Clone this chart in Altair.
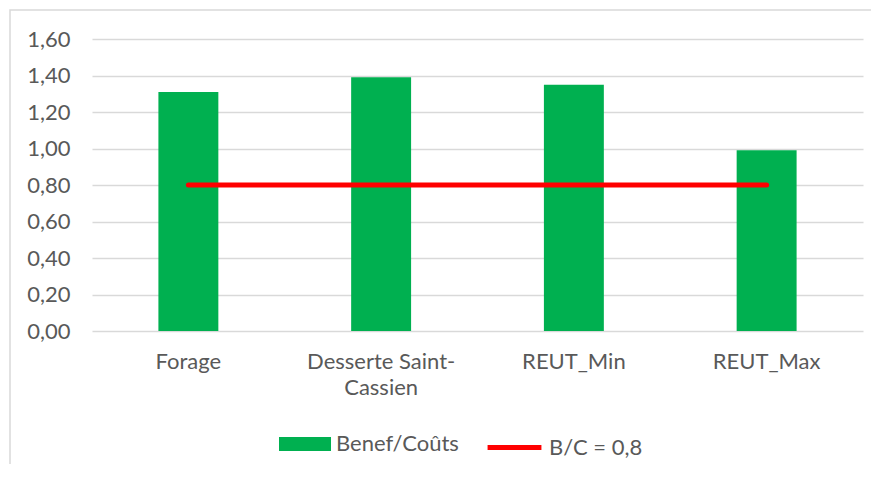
import altair as alt
import pandas as pd

categories = ["Forage", "Desserte Saint-Cassien", "REUT_Min", "REUT_Max"]
ratios = [1.31, 1.39, 1.35, 0.99]
threshold = [0.8, 0.8, 0.8, 0.8]
y_ticks = [0.0, 0.2, 0.4, 0.6, 0.8, 1.0, 1.2, 1.4, 1.6]
bar_series = "Benef/Coûts"
line_series = "B/C = 0,8"

df = pd.DataFrame({
    "cat": categories,
    "ratio": ratios,
    "seuil": threshold,
    "s1": [bar_series] * len(categories),
    "s2": [line_series] * len(categories),
})

W, H = 771, 292
FONT = "Lato"
GREY = "#595959"
FS = 22

x_enc = alt.X(
    "cat:N", sort=categories, title=None,
    scale=alt.Scale(paddingInner=0.689, paddingOuter=0.3445),
    axis=alt.Axis(
        labelAngle=0, ticks=False, domain=False, labelPadding=20,
        labelFont=FONT, labelFontSize=FS, labelColor=GREY, labelLineHeight=26,
        labelOverlap=False,
        labelExpr="datum.label == 'Desserte Saint-Cassien' ? ['Desserte Saint-', 'Cassien'] : datum.label",
    ),
)
y_scale = alt.Scale(domain=[0, 1.6], nice=False)
y_axis = alt.Axis(
    values=y_ticks, tickCount=20, ticks=False, domain=False, labelPadding=22,
    labelFont=FONT, labelFontSize=FS, labelColor=GREY, labelOverlap=False,
    labelExpr="replace(format(datum.value, '.2f'), '.', ',')",
    grid=True, gridColor="#d9d9d9", gridWidth=1.5,
)

bars = alt.Chart(df).mark_bar().encode(
    x=x_enc,
    y=alt.Y("ratio:Q", scale=y_scale, axis=y_axis, title=None),
    fill=alt.Fill(
        "s1:N",
        scale=alt.Scale(domain=[bar_series], range=["#00B050"]),
        legend=alt.Legend(
            title=None, orient="none", legendX=187, legendY=379, padding=0,
            symbolType="M-1,-0.27H1V0.27H-1Z", symbolSize=2704, symbolStrokeWidth=0,
            labelFont=FONT, labelFontSize=FS, labelColor=GREY, labelOffset=5,
        ),
    ),
)

line = alt.Chart(df).mark_line(strokeWidth=5, strokeCap="round").encode(
    x=x_enc,
    y=alt.Y("seuil:Q", scale=y_scale, axis=y_axis, title=None),
    stroke=alt.Stroke(
        "s2:N",
        scale=alt.Scale(domain=[line_series], range=["#FF0000"]),
        legend=alt.Legend(
            title=None, orient="none", legendX=393, legendY=379, padding=0,
            symbolType="stroke", symbolSize=2900, symbolStrokeWidth=5,
            labelFont=FONT, labelFontSize=FS, labelColor=GREY, labelOffset=5,
        ),
    ),
)

border = alt.Chart(pd.DataFrame({"a": [0]})).mark_rect(
    fillOpacity=0, stroke="#d9d9d9", strokeWidth=1.5
).encode(
    x=alt.value(-82), x2=alt.value(820), y=alt.value(-29), y2=alt.value(460)
)

chart = alt.layer(border, bars, line).properties(
    width=W, height=H,
    padding={"left": 84, "top": 31, "right": 8, "bottom": 133},
    autosize=alt.AutoSizeParams(type="none"),
).configure_view(stroke=None)

chart.save("out.html", embed_options={"renderer": "svg", "actions": False})
